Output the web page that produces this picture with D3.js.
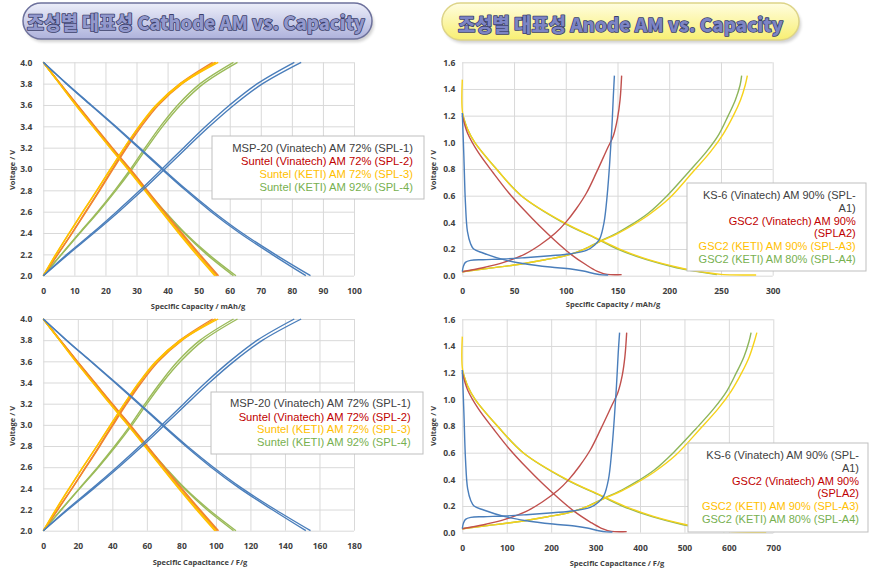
<!DOCTYPE html>
<html><head><meta charset="utf-8">
<script src="https://cdn.jsdelivr.net/npm/d3@7"></script>
<style>body{margin:0;background:#fff;} svg{display:block;}</style>
</head><body>
<svg id="c" width="872" height="572"></svg>
<script>
// ---------------- DATA ----------------
const titleCathode = "조성별 대표성 Cathode AM vs. Capacity";
const titleAnode = "조성별 대표성 Anode AM vs. Capacity";

const cathodeLegend = ["MSP-20 (Vinatech) AM 72% (SPL-1)", "Suntel (Vinatech) AM 72% (SPL-2)", "Suntel (KETI) AM 72% (SPL-3)", "Suntel (KETI) AM 92% (SPL-4)"];
const anodeLegend = ["KS-6 (Vinatech) AM 90% (SPL-", "A1)", "GSC2 (Vinatech) AM 90%", "(SPLA2)", "GSC2 (KETI) AM 90% (SPL-A3)", "GSC2 (KETI) AM 80% (SPL-A4)"];

const cathodeYTicks = [2.0, 2.2, 2.4, 2.6, 2.8, 3.0, 3.2, 3.4, 3.6, 3.8, 4.0];
const anodeYTicks = [0.0, 0.2, 0.4, 0.6, 0.8, 1.0, 1.2, 1.4, 1.6];
const capXTicks = [0, 10, 20, 30, 40, 50, 60, 70, 80, 90, 100];
const capfXTicks = [0, 20, 40, 60, 80, 100, 120, 140, 160, 180];
const anodeCapXTicks = [0, 50, 100, 150, 200, 250, 300];
const anodeCapfXTicks = [0, 100, 200, 300, 400, 500, 600, 700];

// voltage levels for cathode curves
const voltsUp = [2.0, 2.2, 2.4, 2.6, 2.8, 3.0, 3.2, 3.4, 3.6, 3.8, 4.0];
const voltsDown = [4.0, 3.8, 3.6, 3.4, 3.2, 3.0, 2.8, 2.6, 2.4, 2.2, 2.0];

// Panel 1: specific capacity (mAh/g) at voltsUp (charge) / voltsDown (discharge)
const spl1ChgCap = [[0, 8, 16.3, 24.3, 31.9, 39.1, 46.2, 53.5, 61.4, 70.6, 83], [0, 7.6, 15.8, 23.6, 31.1, 38.2, 45.2, 52.3, 60, 68.9, 80.8]];
const spl1DisCap = [[0, 7.5, 15.4, 23.3, 31, 38.5, 46.3, 54.7, 64, 74.6, 86], [0, 7.4, 15.2, 23, 30.6, 38.1, 45.8, 54, 63.2, 73.6, 84.5]];
const spl2ChgCap = [[0, 4.7, 9.3, 13.8, 18.2, 22.5, 26.9, 31.6, 37.1, 44.7, 55.3], [0, 4.6, 9.2, 13.6, 18, 22.2, 26.5, 31.1, 36.5, 44, 54.5]];
const spl2DisCap = [[0, 5.5, 11, 16.6, 22.2, 28, 33.5, 39, 44.6, 50.4, 56.4], [0, 5.4, 10.9, 16.4, 22, 27.8, 33.2, 38.7, 44.2, 50, 56]];
const spl3ChgCap = [[0, 4, 8.3, 12.7, 17.2, 21.6, 26.1, 30.9, 36.6, 44.6, 56.3], [0, 4.1, 8.4, 12.8, 17.3, 21.7, 26.1, 30.8, 36.3, 44.1, 55.6]];
const spl3DisCap = [[0, 5.2, 10.5, 16, 21.6, 27.3, 32.8, 38.3, 43.8, 49.6, 55.6], [0, 5.2, 10.4, 15.9, 21.4, 27.1, 32.6, 38, 43.5, 49.2, 55.2]];
const spl4ChgCap = [[0, 5.9, 11.8, 17.8, 23.4, 28.6, 33.4, 38.4, 44.2, 51.6, 62.5], [0, 5.8, 11.6, 17.5, 23, 28.1, 32.8, 37.7, 43.3, 50.5, 61.2]];
const spl4DisCap = [[0, 5.4, 10.8, 16.3, 21.9, 27.6, 33.2, 39.2, 45.6, 53.2, 62], [0, 5.3, 10.7, 16.2, 21.8, 27.5, 33, 39, 45.3, 52.6, 61.2]];

// Panel 3: specific capacitance (F/g)
const spl1ChgF = [[0, 14.4, 29.3, 43.7, 57.4, 70.4, 83.2, 96.3, 110.5, 127.1, 149.4], [0, 13.7, 28.4, 42.5, 56, 68.8, 81.4, 94.1, 108, 124, 145.4]];
const spl1DisF = [[0, 13.5, 27.7, 41.9, 55.8, 69.3, 83.3, 98.5, 115.2, 134.3, 154.8], [0, 13.3, 27.4, 41.4, 55.1, 68.6, 82.4, 97.2, 113.8, 132.5, 152.1]];
const spl2ChgF = [[0, 8.5, 16.7, 24.8, 32.8, 40.5, 48.4, 56.9, 66.8, 80.5, 99.5], [0, 8.3, 16.6, 24.5, 32.4, 40, 47.7, 56, 65.7, 79.2, 98.1]];
const spl2DisF = [[0, 9.9, 19.8, 29.9, 40, 50.4, 60.3, 70.2, 80.3, 90.7, 101.5], [0, 9.7, 19.6, 29.5, 39.6, 50, 59.8, 69.7, 79.6, 90, 100.8]];
const spl3ChgF = [[0, 7.2, 14.9, 22.9, 31, 38.9, 47, 55.6, 65.9, 80.3, 101.3], [0, 7.4, 15.1, 23, 31.1, 39.1, 47, 55.4, 65.3, 79.4, 100.1]];
const spl3DisF = [[0, 9.4, 18.9, 28.8, 38.9, 49.1, 59, 68.9, 78.8, 89.3, 100.1], [0, 9.4, 18.7, 28.6, 38.5, 48.8, 58.7, 68.4, 78.3, 88.6, 99.4]];
const spl4ChgF = [[0, 10.6, 21.2, 32, 42.1, 51.5, 60.1, 69.1, 79.6, 92.9, 112.5], [0, 10.4, 20.9, 31.5, 41.4, 50.6, 59, 67.9, 77.9, 90.9, 110.2]];
const spl4DisF = [[0, 9.7, 19.4, 29.3, 39.4, 49.7, 59.8, 70.6, 82.1, 95.8, 111.6], [0, 9.5, 19.3, 29.2, 39.2, 49.5, 59.4, 70.2, 81.5, 94.7, 110.2]];

// Panel 2: anode specific capacity (mAh/g), [capacity, voltage]
const a1Chg = [[0,0.03],[1,0.07],[3,0.1],[8,0.115],[20,0.12],[40,0.125],[60,0.135],[85,0.15],[105,0.165],[120,0.19],[128,0.23],[133,0.28],[137,0.4],[140,0.6],[142.5,0.85],[144.5,1.1],[146,1.35],[147,1.5]];
const a1Dis = [[0,1.22],[1.5,0.9],[3,0.55],[5,0.33],[8,0.24],[11,0.2],[20,0.17],[40,0.12],[60,0.09],[85,0.065],[105,0.05],[117,0.035],[128,0.015],[135,0.006],[141,0.005]];
const a2Chg = [[0,0.03],[20,0.06],[40,0.1],[60,0.16],[75,0.23],[90,0.32],[100,0.4],[110,0.5],[120,0.62],[130,0.78],[140,0.95],[146,1.05],[150,1.18],[152.5,1.32],[154,1.5]];
const a2Dis = [[0,1.2],[5,1.07],[15,0.93],[30,0.77],[45,0.62],[60,0.49],[75,0.37],[90,0.26],[105,0.16],[120,0.08],[130,0.035],[140,0.01],[154,0.008]];
const a3Chg = [[0,0.03],[20,0.05],[50,0.08],[80,0.12],[100,0.15],[118,0.2],[133,0.255],[150,0.315],[165,0.38],[180,0.455],[200,0.58],[222,0.77],[240,0.93],[252,1.06],[262,1.2],[269,1.32],[273.5,1.43],[275.5,1.5]];
const a3Dis = [[0,1.47],[0.3,1.22],[5,1.1],[12,1.0],[33,0.8],[57,0.6],[98,0.4],[130,0.28],[152,0.2],[180,0.12],[210,0.06],[235,0.025],[250,0.01],[284,0.005]];
const a4Chg = [[0,0.03],[20,0.05],[50,0.08],[80,0.12],[100,0.15],[118,0.2],[133,0.258],[150,0.322],[165,0.39],[180,0.47],[198,0.6],[219,0.78],[236,0.93],[248,1.06],[257,1.2],[264,1.32],[268.5,1.43],[270,1.5]];
const a4Dis = [[0,1.22],[5,1.1],[12,1.0],[33,0.8],[57,0.6],[97,0.4],[129,0.28],[150,0.2],[178,0.12],[207,0.06],[232,0.025],[246,0.008]];

// Panel 4: anode specific capacitance (F/g), [capacitance, voltage]
const a1ChgF = [[0,0.03],[2.4,0.07],[7.2,0.1],[19.2,0.115],[48,0.12],[96,0.125],[144,0.135],[204,0.15],[252,0.165],[288,0.19],[307,0.23],[319,0.28],[329,0.4],[336,0.6],[342,0.85],[347,1.1],[351,1.35],[354,1.5]];
const a1DisF = [[0,1.22],[3.6,0.9],[7.2,0.55],[12,0.33],[19.2,0.24],[26.4,0.2],[48,0.17],[96,0.12],[144,0.09],[204,0.065],[252,0.05],[281,0.035],[307,0.015],[324,0.006],[338,0.005]];
const a2ChgF = [[0,0.03],[48,0.06],[96,0.1],[144,0.16],[180,0.23],[216,0.32],[240,0.4],[264,0.5],[288,0.62],[312,0.78],[336,0.95],[350,1.05],[360,1.18],[366,1.32],[370,1.5]];
const a2DisF = [[0,1.2],[12,1.07],[36,0.93],[72,0.77],[108,0.62],[144,0.49],[180,0.37],[216,0.26],[252,0.16],[288,0.08],[312,0.035],[336,0.01],[370,0.008]];
const a3ChgF = [[0,0.03],[48,0.05],[120,0.08],[192,0.12],[240,0.15],[283,0.2],[319,0.255],[360,0.315],[396,0.38],[432,0.455],[480,0.58],[533,0.77],[576,0.93],[605,1.06],[629,1.2],[646,1.32],[657,1.43],[663,1.5]];
const a3DisF = [[0,1.47],[0.7,1.22],[12,1.1],[28.8,1.0],[79,0.8],[137,0.6],[235,0.4],[312,0.28],[365,0.2],[432,0.12],[504,0.06],[564,0.025],[600,0.01],[684,0.005]];
const a4ChgF = [[0,0.03],[48,0.05],[120,0.08],[192,0.12],[240,0.15],[283,0.2],[319,0.258],[360,0.322],[396,0.39],[432,0.47],[475,0.6],[526,0.78],[566,0.93],[595,1.06],[617,1.2],[634,1.32],[645,1.43],[650,1.5]];
const a4DisF = [[0,1.22],[12,1.1],[28.8,1.0],[79,0.8],[137,0.6],[233,0.4],[310,0.28],[360,0.2],[427,0.12],[497,0.06],[557,0.025],[590,0.008]];

// ---------------- STYLE ----------------
const C = {blue:"#4a7ebb", orange:"#f0842f", yellow:"#ffc000", green:"#9bbb59", red:"#c0504d", ayellow:"#f6d21a", agreen:"#8db55a"};
const LEG = {grey:"#404040", red:"#c00000", yellow:"#ffc000", green:"#77b04f"};
const FONT = "'Open Sans', 'Noto Sans', sans-serif";
const LFONT = "'Liberation Sans', Arial, sans-serif";

const svg = d3.select("#c");
const defs = svg.append("defs");

// ---------------- TITLES ----------------
function banner(x, y, w, h, topCol, botCol, strokeCol, id) {
  const g = defs.append("linearGradient").attr("id", id).attr("x1", 0).attr("y1", 0).attr("x2", 0).attr("y2", 1);
  g.append("stop").attr("offset", "0%").attr("stop-color", topCol);
  g.append("stop").attr("offset", "100%").attr("stop-color", botCol);
  svg.append("rect").attr("x", x + 2).attr("y", y + 3).attr("width", w).attr("height", h).attr("rx", h / 2)
    .attr("fill", "#000").attr("opacity", 0.18).attr("filter", "url(#blur)");
  svg.append("rect").attr("x", x).attr("y", y).attr("width", w).attr("height", h).attr("rx", h / 2)
    .attr("fill", `url(#${id})`).attr("stroke", strokeCol).attr("stroke-width", 1.5);
}
defs.append("filter").attr("id", "blur").append("feGaussianBlur").attr("stdDeviation", 1.5);

banner(23, 3, 349, 36, "#eceef9", "#aeb2dc", "#6d719c", "g1");
banner(442, 3, 357, 37, "#fffde0", "#f8ef72", "#ddd488", "g2");

function titleText(x, y, w, txt, fill, stroke) {
  svg.append("text").attr("x", x).attr("y", y).text(txt)
    .attr("font-family", "'Noto Sans CJK KR', sans-serif").attr("font-weight", 900).attr("font-size", 19)
    .attr("textLength", w).attr("lengthAdjust", "spacingAndGlyphs")
    .attr("dominant-baseline", "central")
    .attr("fill", fill).attr("stroke", stroke).attr("stroke-width", 1.6).attr("paint-order", "stroke")
    .attr("stroke-linejoin", "round");
}
titleText(27, 21.5, 338, titleCathode, "#9298cc", "#3b3f6a");
titleText(458, 23, 325, titleAnode, "#7c84c4", "#3a3f6a");

// ---------------- PANELS ----------------
const line = d3.line().curve(d3.curveCatmullRom.alpha(0.5));

function drawPanel(p) {
  const x = d3.scaleLinear().domain(p.xDomain).range(p.xRange);
  const y = d3.scaleLinear().domain(p.yDomain).range(p.yRange);
  const g = svg.append("g");
  const w = p.xRange[1] - p.xRange[0], h = p.yRange[0] - p.yRange[1];

  const ax = g.append("g").attr("transform", `translate(0,${p.yRange[0]})`)
    .call(d3.axisBottom(x).tickValues(p.xTicks).tickSize(-h).tickPadding(12.5).tickFormat(d3.format("d")));
  const ay = g.append("g").attr("transform", `translate(${p.xRange[0]},0)`)
    .call(d3.axisLeft(y).tickValues(p.yTicks).tickSize(-w).tickPadding(p.yPad).tickFormat(d3.format(".1f")));
  [ax, ay].forEach(a => {
    a.select(".domain").remove();
    a.selectAll("line").attr("stroke", "#d9d9d9").attr("stroke-width", 1);
    a.selectAll("text").attr("font-family", FONT).attr("font-weight", 700).attr("font-size", 8.5).attr("fill", "#404040");
  });

  const cg = g.append("g").attr("fill", "none").attr("stroke-width", 1.4).attr("stroke-linejoin", "round");
  p.curves.forEach(c => {
    cg.append("path").attr("d", line(c.pts.map(d => [x(d[0]), y(d[1])]))).attr("stroke", c.color);
  });

  g.append("text").attr("x", p.xTitle[0]).attr("y", p.xTitle[1]).attr("text-anchor", "middle")
    .attr("dominant-baseline", "central").attr("font-family", FONT).attr("font-weight", 700).attr("font-size", 7.5)
    .attr("fill", "#404040").text(p.xTitleText);

  // legend
  const L = p.legend;
  g.append("rect").attr("x", L.box[0]).attr("y", L.box[1]).attr("width", L.box[2]).attr("height", L.box[3])
    .attr("fill", "#fff").attr("stroke", "#bfbfbf").attr("stroke-width", 1);
  L.items.forEach(it => {
    g.append("text").attr("x", L.right).attr("y", it.y).attr("text-anchor", "end").attr("dominant-baseline", "central")
      .attr("font-family", LFONT).attr("font-size", L.size).attr("fill", it.color).text(it.text);
  });
}

function cathodeCurves(sets, colors) {
  const out = [];
  sets.forEach((s, i) => {
    s.chg.forEach(arr => out.push({color: colors[i], pts: arr.map((c, k) => [c, voltsUp[k]])}));
    s.dis.forEach(arr => out.push({color: colors[i], pts: arr.map((c, k) => [c, voltsDown[k]])}));
  });
  return out;
}

drawPanel({
  xDomain: [0, 100], xRange: [43.3, 354], yDomain: [2, 4], yRange: [275.7, 62.3],
  xTicks: capXTicks, yTicks: cathodeYTicks, yPad: 11,
  xTitle: [198, 305.5], xTitleText: "Specific Capacity / mAh/g",
  curves: cathodeCurves([
    {chg: spl4ChgCap, dis: spl4DisCap}, {chg: spl2ChgCap, dis: spl2DisCap},
    {chg: spl3ChgCap, dis: spl3DisCap}, {chg: spl1ChgCap, dis: spl1DisCap}],
    [C.green, C.orange, C.yellow, C.blue]),
  legend: {box: [212, 136, 212, 63], right: 413, size: 11.2, items: [
    {text: cathodeLegend[0], color: LEG.grey, y: 147.7}, {text: cathodeLegend[1], color: LEG.red, y: 161},
    {text: cathodeLegend[2], color: LEG.yellow, y: 174}, {text: cathodeLegend[3], color: LEG.green, y: 187.3}]}
});

drawPanel({
  xDomain: [0, 180], xRange: [43.3, 354], yDomain: [2, 4], yRange: [530.7, 319],
  xTicks: capfXTicks, yTicks: cathodeYTicks, yPad: 11,
  xTitle: [200, 561.5], xTitleText: "Specific Capacitance / F/g",
  curves: cathodeCurves([
    {chg: spl4ChgF, dis: spl4DisF}, {chg: spl2ChgF, dis: spl2DisF},
    {chg: spl3ChgF, dis: spl3DisF}, {chg: spl1ChgF, dis: spl1DisF}],
    [C.green, C.orange, C.yellow, C.blue]),
  legend: {box: [211, 392, 212, 62], right: 410.7, size: 11.2, items: [
    {text: cathodeLegend[0], color: LEG.grey, y: 403.3}, {text: cathodeLegend[1], color: LEG.red, y: 416.5},
    {text: cathodeLegend[2], color: LEG.yellow, y: 429.3}, {text: cathodeLegend[3], color: LEG.green, y: 442.3}]}
});

drawPanel({
  xDomain: [0, 300], xRange: [462.3, 772.7], yDomain: [0, 1.6], yRange: [275.7, 62.3],
  xTicks: anodeCapXTicks, yTicks: anodeYTicks, yPad: 7,
  xTitle: [613, 304], xTitleText: "Specific Capacity / mAh/g",
  curves: [
    {color: C.agreen, pts: a4Chg}, {color: C.agreen, pts: a4Dis},
    {color: C.ayellow, pts: a3Chg}, {color: C.ayellow, pts: a3Dis},
    {color: C.red, pts: a2Chg}, {color: C.red, pts: a2Dis},
    {color: C.blue, pts: a1Chg}, {color: C.blue, pts: a1Dis}],
  legend: {box: [687, 183, 179, 88], right: 855.7, size: 11, items: [
    {text: anodeLegend[0], color: LEG.grey, y: 195}, {text: anodeLegend[1], color: LEG.grey, y: 207.8},
    {text: anodeLegend[2], color: LEG.red, y: 220.6}, {text: anodeLegend[3], color: LEG.red, y: 233.4},
    {text: anodeLegend[4], color: LEG.yellow, y: 246.2}, {text: anodeLegend[5], color: LEG.green, y: 259}]}
});

drawPanel({
  xDomain: [0, 700], xRange: [462.3, 773.3], yDomain: [0, 1.6], yRange: [532.7, 319.3],
  xTicks: anodeCapfXTicks, yTicks: anodeYTicks, yPad: 7,
  xTitle: [617, 563], xTitleText: "Specific Capacitance / F/g",
  curves: [
    {color: C.agreen, pts: a4ChgF}, {color: C.agreen, pts: a4DisF},
    {color: C.ayellow, pts: a3ChgF}, {color: C.ayellow, pts: a3DisF},
    {color: C.red, pts: a2ChgF}, {color: C.red, pts: a2DisF},
    {color: C.blue, pts: a1ChgF}, {color: C.blue, pts: a1DisF}],
  legend: {box: [688, 443, 180, 89], right: 859, size: 11, items: [
    {text: anodeLegend[0], color: LEG.grey, y: 455}, {text: anodeLegend[1], color: LEG.grey, y: 467.8},
    {text: anodeLegend[2], color: LEG.red, y: 480.6}, {text: anodeLegend[3], color: LEG.red, y: 493.4},
    {text: anodeLegend[4], color: LEG.yellow, y: 506.2}, {text: anodeLegend[5], color: LEG.green, y: 519}]}
});

// y-axis titles
[[11.5, 170], [432.7, 170], [11.5, 426], [432.7, 426]].forEach(([tx, ty]) => {
  svg.append("text").attr("transform", `translate(${tx},${ty}) rotate(-90)`).attr("text-anchor", "middle")
    .attr("dominant-baseline", "central").attr("font-family", FONT).attr("font-weight", 700).attr("font-size", 7.5)
    .attr("fill", "#404040").text("Voltage / V");
});
</script>
</body></html>
